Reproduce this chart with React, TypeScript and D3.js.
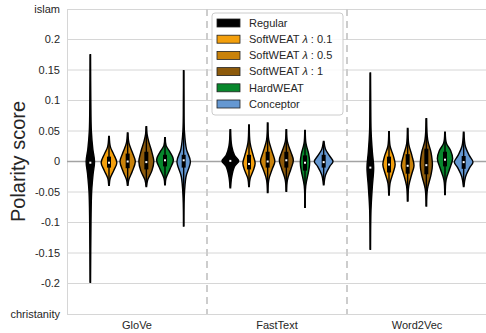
import React, { useEffect, useRef } from "react"
import * as d3 from "d3"

const categories = ["GloVe", "FastText", "Word2Vec"]
const methods = ["Regular", "SoftWEAT λ : 0.1", "SoftWEAT λ : 0.5", "SoftWEAT λ : 1", "HardWEAT", "Conceptor"]
const colors = ["#000000", "#f39f0c", "#c9820a", "#8d5a0b", "#07872c", "#6598d2"]
const yTicks = [-0.2, -0.15, -0.1, -0.05, 0, 0.05, 0.1, 0.15, 0.2]

// per violin: [min, q1, median, q3, max]
const gloveStats = [
  [-0.198, -0.008, -0.002, 0.006, 0.175],
  [-0.039, -0.01, -0.002, 0.008, 0.041],
  [-0.039, -0.011, 0.0, 0.013, 0.047],
  [-0.041, -0.013, -0.001, 0.016, 0.057],
  [-0.038, -0.008, 0.002, 0.011, 0.039],
  [-0.106, -0.01, 0.002, 0.011, 0.149],
]
const fastTextStats = [
  [-0.043, -0.008, 0.001, 0.008, 0.052],
  [-0.041, -0.013, -0.004, 0.011, 0.06],
  [-0.051, -0.01, 0.0, 0.016, 0.063],
  [-0.049, -0.01, 0.002, 0.016, 0.052],
  [-0.075, -0.015, -0.002, 0.01, 0.051],
  [-0.038, -0.01, -0.001, 0.011, 0.033],
]
const word2VecStats = [
  [-0.144, -0.03, -0.01, 0.012, 0.145],
  [-0.055, -0.018, -0.005, 0.008, 0.049],
  [-0.065, -0.02, -0.007, 0.012, 0.054],
  [-0.073, -0.021, -0.006, 0.021, 0.07],
  [-0.054, -0.008, 0.003, 0.016, 0.048],
  [-0.041, -0.012, -0.001, 0.009, 0.048],
]

// density outline: [value, relative half width]
const gloveShapes = [
  [[-0.198, 0.02], [-0.1, 0.07], [-0.05, 0.14], [-0.02, 0.3], [0, 0.45], [0.02, 0.27], [0.05, 0.11], [0.1, 0.05], [0.175, 0.02]],
  [[-0.039, 0.03], [-0.028, 0.12], [-0.015, 0.5], [-0.002, 0.84], [0.012, 0.5], [0.024, 0.15], [0.041, 0.03]],
  [[-0.039, 0.03], [-0.03, 0.12], [-0.016, 0.5], [0.0, 0.82], [0.015, 0.5], [0.03, 0.14], [0.047, 0.03]],
  [[-0.041, 0.03], [-0.03, 0.15], [-0.015, 0.6], [0.0, 0.8], [0.015, 0.6], [0.033, 0.25], [0.045, 0.08], [0.057, 0.03]],
  [[-0.038, 0.03], [-0.028, 0.1], [-0.012, 0.55], [0.003, 0.9], [0.015, 0.55], [0.026, 0.12], [0.039, 0.03]],
  [[-0.106, 0.02], [-0.06, 0.06], [-0.025, 0.25], [0.0, 0.72], [0.02, 0.3], [0.05, 0.08], [0.1, 0.03], [0.149, 0.02]],
]
const fastTextShapes = [
  [[-0.043, 0.03], [-0.025, 0.15], [-0.008, 0.45], [0.001, 0.9], [0.01, 0.45], [0.025, 0.15], [0.052, 0.03]],
  [[-0.041, 0.03], [-0.028, 0.12], [-0.015, 0.45], [-0.003, 0.66], [0.01, 0.45], [0.03, 0.12], [0.06, 0.03]],
  [[-0.051, 0.03], [-0.03, 0.12], [-0.012, 0.5], [0.0, 0.77], [0.015, 0.5], [0.035, 0.12], [0.063, 0.03]],
  [[-0.049, 0.03], [-0.03, 0.12], [-0.012, 0.5], [0.002, 0.75], [0.015, 0.5], [0.032, 0.12], [0.052, 0.03]],
  [[-0.075, 0.03], [-0.04, 0.08], [-0.015, 0.4], [-0.002, 0.5], [0.012, 0.4], [0.03, 0.1], [0.051, 0.03]],
  [[-0.038, 0.03], [-0.022, 0.2], [-0.008, 0.65], [0.0, 1.0], [0.01, 0.6], [0.02, 0.2], [0.033, 0.03]],
]
const word2VecShapes = [
  [[-0.144, 0.02], [-0.08, 0.07], [-0.04, 0.22], [-0.01, 0.36], [0.015, 0.22], [0.05, 0.08], [0.1, 0.04], [0.145, 0.02]],
  [[-0.055, 0.03], [-0.035, 0.12], [-0.018, 0.45], [-0.005, 0.66], [0.01, 0.45], [0.025, 0.12], [0.049, 0.03]],
  [[-0.065, 0.03], [-0.04, 0.12], [-0.02, 0.45], [-0.007, 0.68], [0.01, 0.45], [0.028, 0.12], [0.054, 0.03]],
  [[-0.073, 0.03], [-0.045, 0.12], [-0.022, 0.5], [-0.006, 0.65], [0.015, 0.5], [0.035, 0.15], [0.07, 0.03]],
  [[-0.054, 0.03], [-0.03, 0.12], [-0.012, 0.5], [0.005, 0.82], [0.018, 0.6], [0.03, 0.15], [0.048, 0.03]],
  [[-0.041, 0.03], [-0.025, 0.2], [-0.01, 0.65], [-0.001, 1.0], [0.01, 0.6], [0.025, 0.18], [0.048, 0.03]],
]

const allStats = [gloveStats, fastTextStats, word2VecStats]
const allShapes = [gloveShapes, fastTextShapes, word2VecShapes]

const width = 486
const height = 333
const margin = { top: 9, right: -1, bottom: 19, left: 67 }

export default function App() {
  const ref = useRef<SVGSVGElement>(null)

  useEffect(() => {
    const svg = d3.select(ref.current)
    svg.selectAll("*").remove()

    const x = d3
      .scaleBand()
      .domain(categories)
      .range([margin.left, width - margin.right])
    const hue = d3
      .scaleBand()
      .domain(methods)
      .range([-x.bandwidth() * 0.4, x.bandwidth() * 0.4])
    const y = d3
      .scaleLinear()
      .domain([-0.25, 0.25])
      .range([height - margin.bottom, margin.top])

    const font = "Arial, 'Liberation Sans', sans-serif"

    // grid
    svg
      .append("g")
      .selectAll("line")
      .data(yTicks.filter(d => d !== 0))
      .join("line")
      .attr("x1", margin.left)
      .attr("x2", width)
      .attr("y1", d => y(d))
      .attr("y2", d => y(d))
      .attr("stroke", "#d6d6d6")
      .attr("stroke-width", 1)

    // frame
    svg
      .append("rect")
      .attr("x", margin.left + 0.5)
      .attr("y", margin.top + 0.5)
      .attr("width", width - margin.left)
      .attr("height", height - margin.bottom - margin.top)
      .attr("fill", "none")
      .attr("stroke", "#d6d6d6")

    // separators
    svg
      .append("g")
      .selectAll("line")
      .data(categories.slice(1))
      .join("line")
      .attr("x1", d => x(d)!)
      .attr("x2", d => x(d)!)
      .attr("y1", margin.top)
      .attr("y2", height - margin.bottom)
      .attr("stroke", "#cdcdcd")
      .attr("stroke-width", 2)
      .attr("stroke-dasharray", "7,5")

    // zero line
    svg
      .append("line")
      .attr("x1", margin.left)
      .attr("x2", width)
      .attr("y1", y(0))
      .attr("y2", y(0))
      .attr("stroke", "#a3a3a3")
      .attr("stroke-width", 1.5)

    const hw = hue.bandwidth() / 2
    const g = svg.append("g")
    categories.forEach((cat, ci) => {
      methods.forEach((m, mi) => {
        const cx = x(cat)! + x.bandwidth() / 2 + hue(m)! + hw
        const shape = allShapes[ci][mi]
        const [mn, q1, med, q3, mx] = allStats[ci][mi]
        const area = d3
          .area<number[]>()
          .y(d => y(d[0]))
          .x0(d => cx - d[1] * hw)
          .x1(d => cx + d[1] * hw)
          .curve(d3.curveCatmullRom)
        g.append("path")
          .attr("d", area(shape))
          .attr("fill", colors[mi])
          .attr("stroke", "#000")
          .attr("stroke-width", 1.4)
        g.append("line")
          .attr("x1", cx)
          .attr("x2", cx)
          .attr("y1", y(mn))
          .attr("y2", y(mx))
          .attr("stroke", "#000")
          .attr("stroke-width", 1.4)
        g.append("line")
          .attr("x1", cx)
          .attr("x2", cx)
          .attr("y1", y(q1))
          .attr("y2", y(q3))
          .attr("stroke", "#000")
          .attr("stroke-width", 4)
        g.append("rect")
          .attr("x", cx - 1)
          .attr("y", y(med) - 1)
          .attr("width", 2)
          .attr("height", 2)
          .attr("fill", "#fff")
      })
    })

    // y tick labels
    const yLabels = [
      ...yTicks.map(d => ({ v: d, t: d3.format("")(d) })),
      { v: 0.25, t: "islam" },
      { v: -0.25, t: "christanity" },
    ]
    svg
      .append("g")
      .attr("font-family", font)
      .attr("font-size", 11)
      .attr("fill", "#262626")
      .attr("text-anchor", "end")
      .selectAll("text")
      .data(yLabels)
      .join("text")
      .attr("x", 60)
      .attr("y", d => y(d.v))
      .attr("dy", "0.35em")
      .text(d => d.t.replace("−", "-"))

    // x tick labels
    svg
      .append("g")
      .attr("font-family", font)
      .attr("font-size", 11)
      .attr("fill", "#262626")
      .attr("text-anchor", "middle")
      .selectAll("text")
      .data(categories)
      .join("text")
      .attr("x", d => x(d)! + x.bandwidth() / 2)
      .attr("y", 329)
      .text(d => d)

    svg
      .append("text")
      .attr("transform", `translate(25,${(margin.top + height - margin.bottom) / 2}) rotate(-90)`)
      .attr("text-anchor", "middle")
      .attr("font-family", font)
      .attr("font-size", 20)
      .attr("fill", "#262626")
      .text("Polarity score")

    // legend
    const lg = svg.append("g").attr("transform", "translate(212,13)")
    lg.append("rect")
      .attr("width", 131)
      .attr("height", 102)
      .attr("rx", 3)
      .attr("fill", "#fff")
      .attr("fill-opacity", 0.85)
      .attr("stroke", "#cccccc")
    const rows = lg
      .selectAll("g")
      .data(methods)
      .join("g")
      .attr("transform", (d, i) => `translate(5,${10 + i * 16.2})`)
    rows
      .append("rect")
      .attr("y", -4)
      .attr("width", 23)
      .attr("height", 8)
      .attr("fill", (d, i) => colors[i])
      .attr("stroke", "#222")
      .attr("stroke-width", 0.8)
    rows
      .append("text")
      .attr("x", 32)
      .attr("dy", "0.35em")
      .attr("font-family", font)
      .attr("font-size", 11)
      .attr("fill", "#262626")
      .each(function (d) {
        const t = d3.select(this)
        const parts = d.split("λ")
        t.append("tspan").text(parts[0])
        if (parts.length > 1) {
          t.append("tspan").attr("font-style", "italic").text("λ")
          t.append("tspan").text(parts[1])
        }
      })
  }, [])

  return (
    <svg
      ref={ref}
      width={width}
      height={height}
      style={{ position: "absolute", left: 0, top: 0, background: "#fff" }}
    />
  )
}
